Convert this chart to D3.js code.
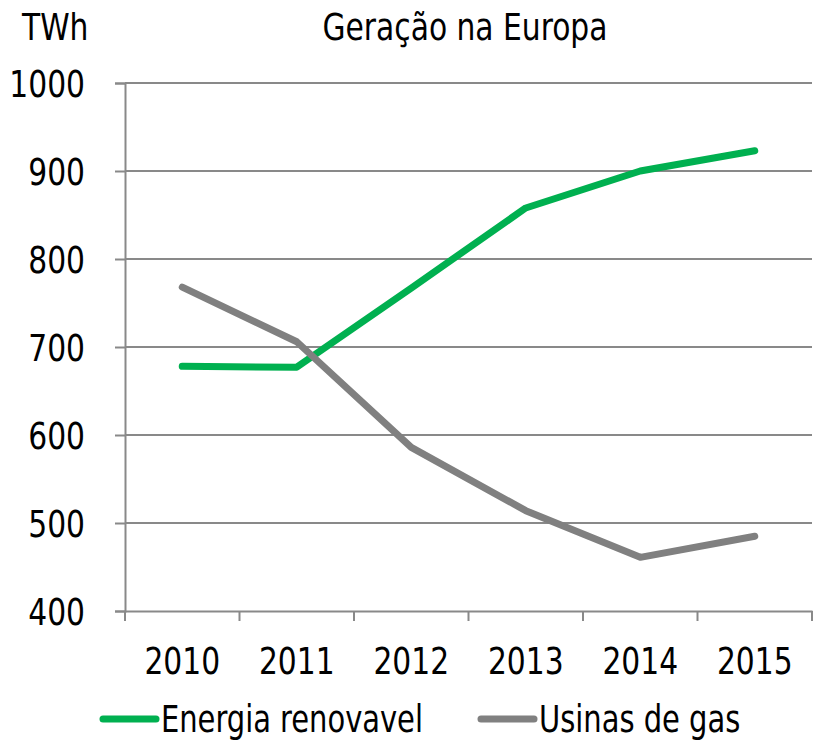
<!DOCTYPE html>
<html>
<head>
<meta charset="utf-8">
<script src="https://cdn.jsdelivr.net/npm/d3@7"></script>
<style>
  body { margin: 0; background: #fff; }
  text { font-family: "DejaVu Sans Condensed", "DejaVu Sans", sans-serif; fill: #000; }
</style>
</head>
<body>
<svg id="chart" width="816" height="741"></svg>
<script>
// data
const years = ["2010", "2011", "2012", "2013", "2014", "2015"];
const renovavel = [678, 677, 767, 858, 900, 923];
const gas = [768, 706, 586, 514, 461, 485];
const yTicks = [400, 500, 600, 700, 800, 900, 1000];

const ctx = { left: 125, right: 812, top: 83, bottom: 611, squeeze: 0.87 };

let svg = d3.select("#chart");

// narrow the text horizontally, keeping its anchor point
function squeeze(sel) {
    sel.each(function () {
        let t = d3.select(this);
        let x = +t.attr("x") || 0;
        t.attr("x", x / ctx.squeeze)
            .attr("transform", "scale(" + ctx.squeeze + ",1)");
    });
}

/* scales */
let xScale = d3.scaleBand()
    .domain(years)
    .range([ctx.left, ctx.right]);

let yScale = d3.scaleLinear()
    .domain([400, 1000])
    .range([ctx.bottom, ctx.top]);

/* gridlines */
svg.append("g")
    .selectAll("line")
    .data(yTicks.slice(1))
    .join("line")
    .attr("x1", ctx.left)
    .attr("x2", ctx.right)
    .attr("y1", d => yScale(d))
    .attr("y2", d => yScale(d))
    .style("stroke", "#898989")
    .style("stroke-width", 2);

/* y axis */
let yAxis = svg.append("g")
    .attr("transform", "translate(" + ctx.left + ",0)")
    .call(d3.axisLeft(yScale).tickValues(yTicks).tickFormat(d3.format("d")).tickSize(10).tickPadding(30));
yAxis.select(".domain").style("stroke", "#898989").style("stroke-width", 2);
yAxis.selectAll(".tick line").style("stroke", "#898989").style("stroke-width", 2);
yAxis.selectAll("text")
    .style("font-size", "38px")
    .attr("dy", "0.36em")
    .call(squeeze);

/* x axis */
let xAxis = svg.append("g")
    .attr("transform", "translate(0," + ctx.bottom + ")")
    .call(d3.axisBottom(xScale).tickSize(0).tickPadding(36));
xAxis.select(".domain").style("stroke", "#898989").style("stroke-width", 2);
xAxis.selectAll("text").style("font-size", "38px").call(squeeze);

// band boundary ticks
xAxis.selectAll(".bound")
    .data(years.map(d => xScale(d)).concat([ctx.right]))
    .join("line")
    .attr("class", "bound")
    .attr("x1", d => d)
    .attr("x2", d => d)
    .attr("y1", 0)
    .attr("y2", 10)
    .style("stroke", "#898989")
    .style("stroke-width", 2);

/* lines */
let line = d3.line()
    .x((d, i) => xScale(years[i]) + xScale.bandwidth() / 2)
    .y(d => yScale(d));

let series = [
    { name: "Energia renovavel", values: renovavel, color: "#00b050" },
    { name: "Usinas de gas", values: gas, color: "#808080" }
];

svg.append("g")
    .selectAll("path")
    .data(series)
    .join("path")
    .attr("d", d => line(d.values))
    .style("fill", "none")
    .style("stroke", d => d.color)
    .style("stroke-width", 7)
    .style("stroke-linecap", "round")
    .style("stroke-linejoin", "round");

/* titles */
svg.append("text")
    .attr("x", 465)
    .attr("y", 40)
    .attr("text-anchor", "middle")
    .style("font-size", "38px")
    .text("Geração na Europa")
    .call(squeeze);

svg.append("text")
    .attr("x", 22)
    .attr("y", 40)
    .style("font-size", "38px")
    .text("TWh")
    .call(squeeze);

/* legend */
let legendX = [103, 481];
let legend = svg.append("g")
    .selectAll("g")
    .data(series)
    .join("g")
    .attr("transform", (d, i) => "translate(" + legendX[i] + ",719)");

legend.append("line")
    .attr("x1", 0)
    .attr("x2", 53)
    .style("stroke", d => d.color)
    .style("stroke-width", 7)
    .style("stroke-linecap", "round");

legend.append("text")
    .attr("x", 58)
    .attr("dy", "0.36em")
    .style("font-size", "37px")
    .text(d => d.name)
    .call(squeeze);
</script>
</body>
</html>
